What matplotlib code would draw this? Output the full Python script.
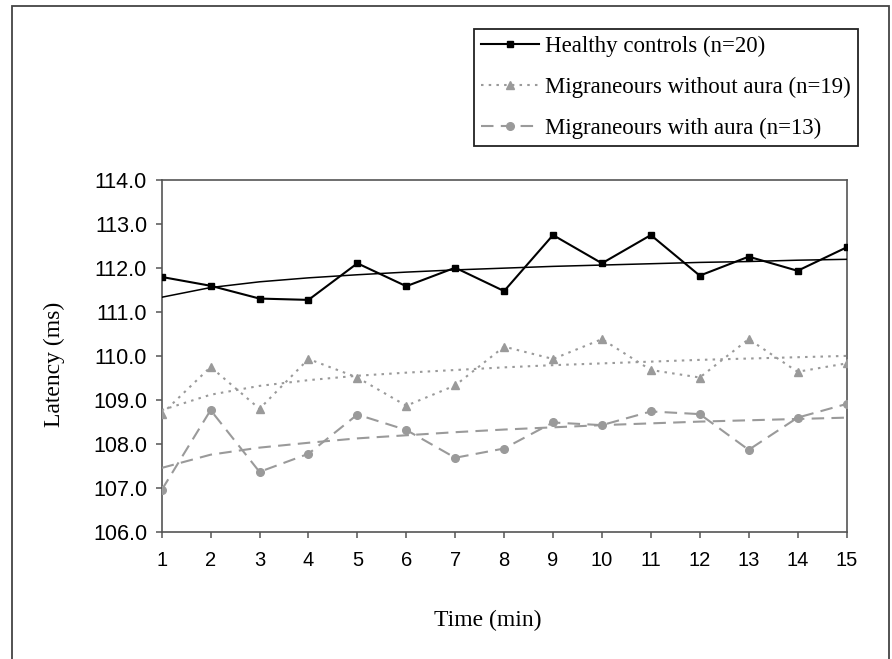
import numpy as np
import matplotlib
matplotlib.use("Agg")
import matplotlib.pyplot as plt
from matplotlib.patches import Rectangle

# minutes
time_min = list(range(1, 16))

# mean latency (ms)
healthy = [111.79, 111.59, 111.30, 111.27, 112.10, 111.58, 112.00, 111.47,
           112.74, 112.10, 112.74, 111.82, 112.25, 111.93, 112.46]
no_aura = [108.68, 109.75, 108.80, 109.93, 109.51, 108.87, 109.33, 110.21,
           109.93, 110.38, 109.68, 109.51, 110.38, 109.64, 109.83]
with_aura = [106.96, 108.77, 107.37, 107.78, 108.67, 108.32, 107.69, 107.90,
             108.49, 108.43, 108.74, 108.68, 107.87, 108.60, 108.91]

# trend lines as drawn in the figure
healthy_trend = [111.33, 111.55, 111.68, 111.77, 111.84, 111.90, 111.95, 111.99,
                 112.03, 112.06, 112.09, 112.12, 112.14, 112.17, 112.19]
no_aura_trend = [108.77, 109.12, 109.32, 109.45, 109.55, 109.62, 109.68, 109.74,
                 109.79, 109.83, 109.87, 109.91, 109.94, 109.97, 110.00]
with_aura_trend = [107.46, 107.76, 107.92, 108.03, 108.13, 108.20, 108.27, 108.33,
                   108.38, 108.43, 108.47, 108.51, 108.54, 108.57, 108.60]

labels = ["Healthy controls (n=20)",
          "Migraneours without aura (n=19)",
          "Migraneours with aura (n=13)"]

W, H = 892, 659
fig = plt.figure(figsize=(W / 100, H / 100), dpi=100)
ax = fig.add_axes([161.7 / W, 1 - 532.3 / H, (846.5 - 161.7) / W, (532.3 - 179.5) / H])

gray = "#9a9a9a"
l1, = ax.plot(time_min, healthy, color="black", lw=1.5, marker="s", ms=5,
              label=labels[0], zorder=5)
ax.plot(time_min, healthy_trend, color="black", lw=1.1, zorder=4)
l2, = ax.plot(time_min, no_aura, color=gray, lw=1.5, ls=(0, (1.2, 2.5)), marker="^",
              ms=6, label=labels[1], zorder=5)
ax.plot(time_min, no_aura_trend, color=gray, lw=1.5, ls=(0, (1.2, 2.5)), zorder=4)
l3, = ax.plot(time_min, with_aura, color=gray, lw=1.5, ls=(0, (6, 3.5)), marker="o",
              ms=5.5, label=labels[2], zorder=5)
ax.plot(time_min, with_aura_trend, color=gray, lw=1.5, ls=(0, (6, 3.5)), zorder=4)

ax.set_xlim(1, 15)
ax.set_ylim(106, 114)
ax.set_xticks(time_min)
ax.set_yticks(np.arange(106, 114.5, 1.0))
ax.set_yticklabels(["%.1f" % v for v in np.arange(106, 114.5, 1.0)])
for s in ax.spines.values():
    s.set_color("#555555")
    s.set_linewidth(1.2)
ax.tick_params(direction="out", length=4.5, width=1.1, color="#555555",
               labelsize=14.5, top=False, right=False)
ax.tick_params(axis="y", pad=6, labelsize=15.5)
ax.tick_params(axis="x", pad=9)
for t in ax.get_xticklabels() + ax.get_yticklabels():
    t.set_fontfamily("Liberation Sans")

fig.text(54 / W, 1 - 364 / H, "Latency (ms)", rotation=90, ha="center", va="center",
         fontsize=17, family="Liberation Serif")
fig.text(488 / W, 1 - 620 / H, "Time (min)", ha="center", va="center",
         fontsize=17, family="Liberation Serif")

leg = fig.legend(handles=[l1, l2, l3], loc="upper right",
                 bbox_to_anchor=(858 / W, 1 - 29.3 / H), borderaxespad=0,
                 prop={"family": "Liberation Serif", "size": 16.5},
                 handlelength=2.5, handletextpad=0.3, labelspacing=0.85,
                 borderpad=0.3, fancybox=False, framealpha=1)
leg.get_frame().set_edgecolor("#222222")
leg.get_frame().set_linewidth(1.3)

# outer frame of the figure panel
fig.add_artist(Rectangle((12 / W, -0.1), (889 - 12) / W, 1.1 - 6 / H,
                         transform=fig.transFigure, fill=False,
                         ec="#444444", lw=1.3))

fig.savefig("out.png", dpi=100)
